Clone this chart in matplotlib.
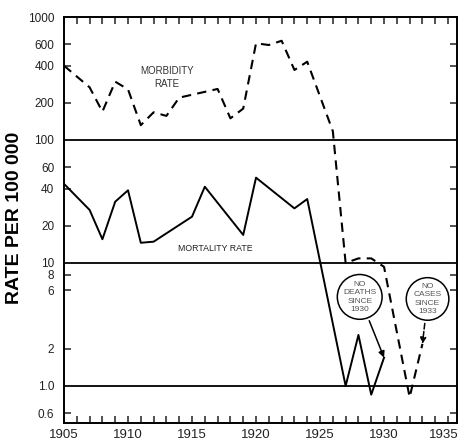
import matplotlib
matplotlib.use('Agg')
import matplotlib.pyplot as plt
from matplotlib.ticker import FixedLocator, FixedFormatter, NullLocator, MultipleLocator
from matplotlib.transforms import ScaledTranslation

plt.rcParams['font.family'] = ['Liberation Sans', 'DejaVu Sans']

# ---- data ----
morb_years = [1905, 1907, 1908, 1909, 1910, 1911, 1912, 1913, 1914, 1917, 1918, 1919,
              1920, 1921, 1922, 1923, 1924, 1926, 1927, 1928, 1929, 1930, 1932, 1933]
morb_rate = [402, 268, 170, 298, 258, 132, 168, 157, 221, 260, 150, 180,
             611, 592, 641, 371, 433, 118, 10.0, 10.9, 10.9, 9.3, 0.81, 2.2]

mort_years = [1905, 1907, 1908, 1909, 1910, 1911, 1912, 1915, 1916, 1919, 1920,
              1923, 1924, 1927, 1928, 1929, 1930]
mort_rate = [44, 27, 15.6, 31.5, 39, 14.6, 14.9, 23.8, 41.7, 16.9, 49.4,
             27.8, 33.1, 1.0, 2.6, 0.85, 1.7]

ytick_vals = [1000, 600, 400, 200, 100, 60, 40, 20, 10, 8, 6, 2, 1, 0.6]
ytick_labels = ['1000', '600', '400', '200', '100', '60', '40', '20',
                '10', '8', '6', '2', '1.0', '0.6']
xtick_years = [1905, 1910, 1915, 1920, 1925, 1930, 1935]
section_lines = [100, 10, 1]

# ---- figure ----
fig = plt.figure(figsize=(4.61, 4.44), dpi=100)
ax = fig.add_axes([64 / 461, 1 - 423 / 444, (457 - 64) / 461, (423 - 17) / 444])
ax.set_yscale('log')
ax.set_xlim(1905, 1935.7)
ax.set_ylim(0.5, 1000)

for v in section_lines:
    ax.axhline(v, color='black', lw=1.3, zorder=1)

ax.plot(morb_years, morb_rate, color='black', lw=1.5, ls=(0, (4.5, 3.0)), zorder=3)
ax.plot(mort_years, mort_rate, color='black', lw=1.4, zorder=3)

# y ticks
ax.yaxis.set_major_locator(FixedLocator(ytick_vals))
ax.yaxis.set_major_formatter(FixedFormatter(ytick_labels))
ax.yaxis.set_minor_locator(NullLocator())
ax.tick_params(axis='y', which='major', direction='in', length=5, width=1.1,
               right=True, labelsize=8.5, pad=7, colors='#222222')

# x ticks
ax.set_xticks(xtick_years)
ax.set_xticklabels([str(y) for y in xtick_years])
ax.xaxis.set_minor_locator(MultipleLocator(1))
ax.tick_params(axis='x', which='both', direction='in', top=True, length=5, width=1.1,
               labelsize=9.5, pad=4, colors='#222222')
last = ax.get_xticklabels()[-1]
last.set_transform(last.get_transform() + ScaledTranslation(-4 / 100, 0, fig.dpi_scale_trans))

for s in ax.spines.values():
    s.set_linewidth(1.4)

# labels
ax.text(1913.05, 320, 'MORBIDITY\nRATE', ha='center', va='center', fontsize=7,
        color='#333333', linespacing=1.4)
ax.text(1913.9, 13, 'MORTALITY RATE', ha='left', va='center', fontsize=6.3,
        color='#222222')

fig.text(15 / 461, 1 - 218 / 444, 'RATE PER 100 000', rotation=90, ha='center',
         va='center', fontsize=14, fontweight='bold')

# circled notes with arrows
ax.annotate('NO\nDEATHS\nSINCE\n1930', xy=(mort_years[-1], mort_rate[-1]),
            xytext=(1928.1, 5.3), ha='center', va='center', fontsize=6,
            color='#555555', linespacing=1.25,
            bbox=dict(boxstyle='circle,pad=0.7', fc='white', ec='black', lw=1.1),
            arrowprops=dict(arrowstyle='-|>', color='black', lw=1.1,
                            mutation_scale=9, shrinkB=0))
ax.annotate('NO\nCASES\nSINCE\n1933', xy=(morb_years[-1], morb_rate[-1]),
            xytext=(1933.4, 5.1), ha='center', va='center', fontsize=6,
            color='#555555', linespacing=1.25,
            bbox=dict(boxstyle='circle,pad=0.65', fc='white', ec='black', lw=1.1),
            arrowprops=dict(arrowstyle='-|>', color='black', lw=1.1, ls='--',
                            mutation_scale=9, shrinkB=0))

fig.savefig('out.png', dpi=100)
